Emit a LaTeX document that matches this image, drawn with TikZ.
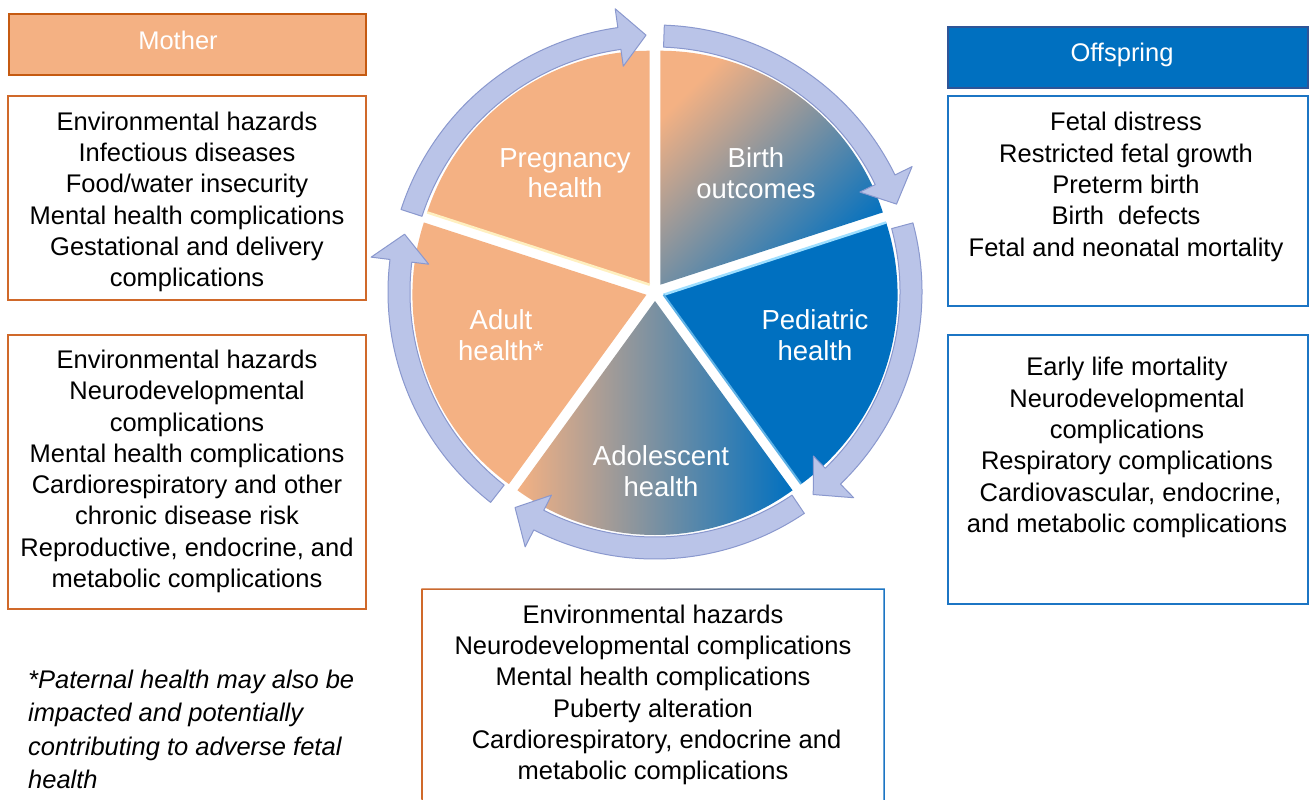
\documentclass[tikz,border=0pt]{standalone}
\usepackage{fontspec}
\setmainfont{Liberation Sans}
\usetikzlibrary{calc}
\definecolor{morange}{HTML}{F4B183}
\definecolor{mborder}{HTML}{C55A11}
\definecolor{tborder}{HTML}{D0692A}
\definecolor{oblue}{HTML}{0070C0}
\definecolor{oborder}{HTML}{2F5597}
\definecolor{tblue}{HTML}{1C75C4}
\definecolor{ringfill}{HTML}{BAC4E8}
\definecolor{ringedge}{HTML}{8A98CE}
\definecolor{hlyellow}{HTML}{FFF0C0}
\definecolor{hlcyan}{HTML}{9FDFFF}
\newcommand\ringarrow[2]{%
  \pgfmathsetmacro\hb{#2+6}%
  \path[ringseg] ($(C)+(#1:267)$) arc[start angle=#1, end angle=\hb, radius=267]
    -- ($(C)+(\hb:286)$) -- ($(C)+(#2:257)$) -- ($(C)+(\hb:228)$)
    -- ($(C)+(\hb:245)$) arc[start angle=\hb, end angle=#1, radius=245] -- cycle;}
\newcommand\pieslice[3]{%
  \pgfmathsetmacro\pmid{(#1+#2)/2}%
  \path[#3] ($(C)+(\pmid:9)$) -- ++(#1:234) arc[start angle=#1, end angle=#2, radius=234] -- cycle;}
\begin{document}
\begin{tikzpicture}[x=1pt,y=1pt,
  body/.style={font=\fontsize{25.5}{31.3}\selectfont, align=center, inner sep=0pt, text=black},
  slicetext/.style={font=\fontsize{27.5}{30.5}\selectfont, align=center, inner sep=0pt, text=white},
  headtext/.style={font=\fontsize{25.5}{31.3}\selectfont, inner sep=0pt, text=white},
  obox/.style={draw=tborder, line width=1.5pt},
  bbox/.style={draw=tblue, line width=1.5pt},
  ringseg/.style={fill=ringfill, draw=ringedge, line width=1pt, line join=round},
]
\useasboundingbox (0,0) rectangle (1309,-800);
\fill[white] (0,0) rectangle (1309,-800);
\coordinate (C) at (655,-292);

% pie slices
\pieslice{90}{162}{fill=morange}
\pieslice{18}{90}{top color=morange, bottom color=oblue, shading angle=45}
\pieslice{-54}{18}{fill=oblue}
\pieslice{-126}{-54}{left color=morange, right color=oblue}
\pieslice{162}{234}{fill=morange}
% highlights
\draw[hlyellow, line width=2.5pt] ($(C)+(126:9)$) -- ++(162:234);
\draw[hlcyan, line width=2.5pt] ($(C)+(-18:9)$) -- ++(18:234);
\draw[hlcyan!60!oblue, line width=2pt] ($(C)+(-18:9)$) -- ++(-54:234);

% ring arrows
\ringarrow{162}{92}
\ringarrow{88}{20}
\ringarrow{15}{-52}
\ringarrow{-56}{-123}
\ringarrow{232}{167}

% slice labels
\node[slicetext] (preg) at (565,-173) {Pregnancy\\health};
\node[slicetext] (birth) at (756,-173) {Birth\\outcomes};
\node[slicetext] (ped) at (815,-335) {Pediatric\\health};
\node[slicetext] (adol) at (661,-471) {Adolescent\\health};
\node[slicetext] (adult) at (501,-335) {Adult\\health*};

% mother side
\draw[fill=morange, draw=mborder, line width=1.5pt] (9,-14) rectangle (366,-75);
\node[headtext] (mother) at (178,-40) {Mother};
\draw[obox] (8,-96) rectangle (366,-300);
\node[body] (m1) at (187,-202) {Environmental hazards\\Infectious diseases\\Food/water insecurity\\Mental health complications\\Gestational and delivery\\complications};
\draw[obox] (8,-335) rectangle (366,-609);
\node[body] (m2) at (187,-471.4) {Environmental hazards\\Neurodevelopmental\\complications\\Mental health complications\\Cardiorespiratory and other\\chronic disease risk\\Reproductive, endocrine, and\\metabolic complications};

% offspring side
\draw[fill=oblue, draw=oborder, line width=1.5pt] (948,-27) rectangle (1308,-88);
\node[headtext] (offspring) at (1122,-54.7) {Offspring};
\draw[bbox] (948,-96) rectangle (1308,-306);
\node[body] (o1) at (1126,-187) {Fetal distress\\Restricted fetal growth\\Preterm birth\\Birth\ \ defects\\Fetal and neonatal mortality};
\draw[bbox] (948,-335) rectangle (1308,-604);
\node[body] (o2) at (1127,-447.5) {Early life mortality\\Neurodevelopmental\\complications\\Respiratory complications\\\ Cardiovascular, endocrine,\\and metabolic complications};

% bottom box with gradient frame
\shade[left color=tborder, right color=tblue, even odd rule]
  (421.25,-588.25) rectangle (884.75,-806) (422.75,-589.75) rectangle (883.25,-806);
\node[body] (adolbox) at (653,-695) {Environmental hazards\\Neurodevelopmental complications\\Mental health complications\\Puberty alteration\\\ Cardiorespiratory, endocrine and\\metabolic complications};

% footnote
\node[body, align=left, anchor=north west, font=\fontsize{25.5}{33.3}\selectfont\itshape] (note) at (28,-670)
  {*Paternal health may also be\\impacted and potentially\\contributing to adverse fetal\\health};
\end{tikzpicture}
\end{document}
